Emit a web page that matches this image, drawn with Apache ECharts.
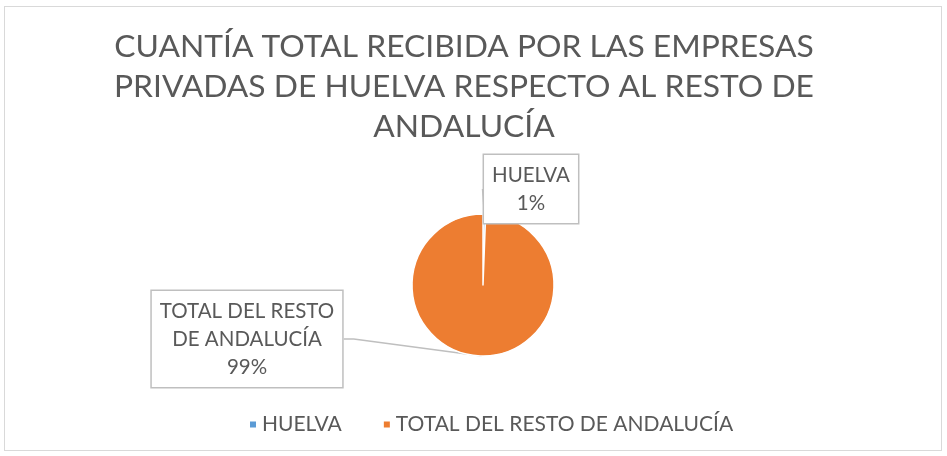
<!DOCTYPE html>
<html>
<head>
<meta charset="utf-8">
<script src="https://cdn.jsdelivr.net/npm/echarts@6/dist/echarts.min.js"></script>
<style>
  body { margin: 0; background: #fff; }
  #main { width: 947px; height: 456px; }
  #frame {
    position: absolute; left: 4px; top: 6px;
    width: 936px; height: 443px;
    border: 1px solid #d9d9d9;
    pointer-events: none;
  }
</style>
</head>
<body>
<div id="main"></div>
<div id="frame"></div>
<script>
// datos
const categorias = ['HUELVA', 'TOTAL DEL RESTO DE ANDALUCÍA'];
const etiquetas = ['HUELVA', 'TOTAL DEL RESTO\nDE ANDALUCÍA'];
const valores = [0.6, 99.4];
const colores = ['#5B9BD5', '#ED7D31'];

let chart = echarts.init(document.getElementById('main'));
let total = valores.reduce((a, b) => a + b, 0);
let option = {
  title: {
    text: 'CUANTÍA TOTAL RECIBIDA POR LAS EMPRESAS\nPRIVADAS DE HUELVA RESPECTO AL RESTO DE\nANDALUCÍA',
    left: 459,
    textAlign: 'center',
    top: 22,
    textStyle: {
      fontFamily: 'Lato',
      fontSize: 31.8,
      fontWeight: 'normal',
      color: '#595959',
      lineHeight: 40
    }
  },
  legend: {
    top: 409,
    left: 243,
    icon: 'rect',
    itemWidth: 8,
    itemHeight: 8,
    itemGap: 40,
    textStyle: { fontFamily: 'Lato', fontSize: 21, color: '#595959' },
    data: categorias
  },
  series: [{
    type: 'pie',
    center: [483, 285],
    radius: 71,
    startAngle: 90,
    clockwise: true,
    animation: false,
    itemStyle: { borderColor: '#fff', borderWidth: 1.5 },
    label: {
      show: true,
      formatter: p => etiquetas[p.dataIndex] + '\n' + Math.round(p.value / total * 100) + '%',
      fontFamily: 'Lato',
      fontSize: 20.5,
      lineHeight: 28,
      color: '#595959',
      align: 'center',
      backgroundColor: '#fff',
      borderColor: '#bfbfbf',
      borderWidth: 1.5,
      padding: [6, 8]
    },
    labelLine: {
      show: true,
      lineStyle: { color: '#bfbfbf', width: 1.5 },
      length: 10,
      length2: 10
    },
    labelLayout: function (params) {
      if (params.dataIndex === 0) {
        return { x: 531, y: 189, align: 'center', verticalAlign: 'middle' };
      }
      return { x: 247, y: 339, align: 'center', verticalAlign: 'middle' };
    },
    data: categorias.map((c, i) => ({ name: c, value: valores[i], itemStyle: { color: colores[i] } }))
  }]
};
chart.setOption(option);
</script>
</body>
</html>
